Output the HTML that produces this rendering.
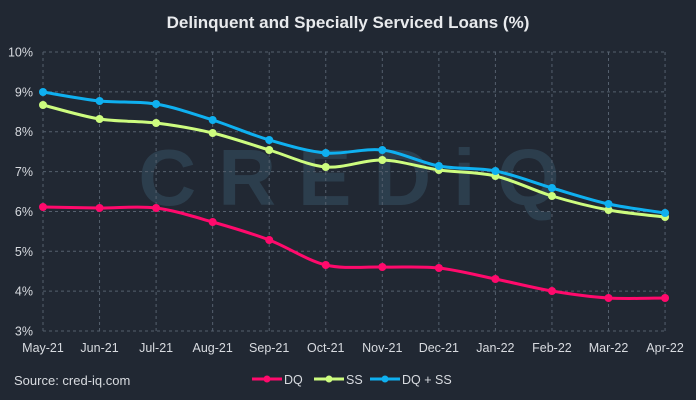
<!DOCTYPE html><html><head><style>body{margin:0;background:#212833;}svg{display:block;font-family:"Liberation Sans",sans-serif}</style></head><body>
<svg width="696" height="400" xmlns="http://www.w3.org/2000/svg">
<rect width="696" height="400" fill="#212833"/>
<text x="348" y="28" fill="#e8eaed" font-size="17" font-weight="bold" text-anchor="middle">Delinquent and Specially Serviced Loans (%)</text>
<text x="360" y="205" fill="#2e4150" font-size="80" font-weight="bold" text-anchor="middle" letter-spacing="22" opacity="0.9">CREDiQ</text>
<g stroke="#55606e" stroke-dasharray="3,3" stroke-width="1" fill="none" id="g"></g>
<g id="lab" fill="#d8dbe0" font-size="12.5"></g>
<g id="s"></g>
<text x="14" y="385" fill="#d8dbe0" font-size="13">Source:   cred-iq.com</text>
<g font-size="12.5" fill="#d8dbe0">
<line x1="252" y1="379" x2="282" y2="379" stroke="#ff0a6c" stroke-width="3"/><circle cx="267" cy="379" r="3.5" fill="#ff0a6c"/><text x="284" y="384">DQ</text>
<line x1="314" y1="379" x2="344" y2="379" stroke="#cdfc7f" stroke-width="3"/><circle cx="329" cy="379" r="3.5" fill="#cdfc7f"/><text x="346" y="384">SS</text>
<line x1="370" y1="379" x2="400" y2="379" stroke="#0fb0f0" stroke-width="3"/><circle cx="385" cy="379" r="3.5" fill="#0fb0f0"/><text x="402" y="384">DQ + SS</text>
</g>
</svg>
<script>
const ns="http://www.w3.org/2000/svg";
const g=document.getElementById('g'),lab=document.getElementById('lab'),s=document.getElementById('s');
function el(p,t,a,txt){const e=document.createElementNS(ns,t);for(const k in a)e.setAttribute(k,a[k]);if(txt)e.textContent=txt;p.appendChild(e);return e;}
const X0=43,DX=56.55,Y10=52,PY=39.86;
const months=["May-21","Jun-21","Jul-21","Aug-21","Sep-21","Oct-21","Nov-21","Dec-21","Jan-22","Feb-22","Mar-22","Apr-22"];
for(let i=0;i<=7;i++){const y=Y10+i*PY;el(g,'line',{x1:X0,x2:X0+11*DX,y1:y,y2:y});el(lab,'text',{x:33,y:y+4.5,'text-anchor':'end'},(10-i)+'%');}
for(let i=0;i<12;i++){const x=X0+i*DX;el(g,'line',{x1:x,x2:x,y1:Y10,y2:Y10+7*PY});el(lab,'text',{x:x,y:352,'text-anchor':'middle'},months[i]);}
const data=[["#cdfc7f",[105,119,123,133,150,167,160,170,176,196,210,217]],["#0fb0f0",[92,101,104,120,140,153,150,166,171,188,204,213]],["#ff0a6c",[207,208,208,222,240,265,267,268,279,291,298,298]]];
for(const [c,ys] of data){const p=ys.map((y,i)=>[X0+i*DX,y]);let d='M'+p[0];for(let i=0;i<p.length-1;i++){const a=p[Math.max(0,i-1)],b=p[i],e=p[i+1],f=p[Math.min(p.length-1,i+2)];const t=0.16;d+=` C${b[0]+(e[0]-a[0])*t},${b[1]+(e[1]-a[1])*t} ${e[0]-(f[0]-b[0])*t},${e[1]-(f[1]-b[1])*t} ${e[0]},${e[1]}`;}
el(s,'path',{d:d,stroke:c,'stroke-width':3,fill:'none'});p.forEach(q=>el(s,'circle',{cx:q[0],cy:q[1],r:4,fill:c}));}
</script>
</body></html>
